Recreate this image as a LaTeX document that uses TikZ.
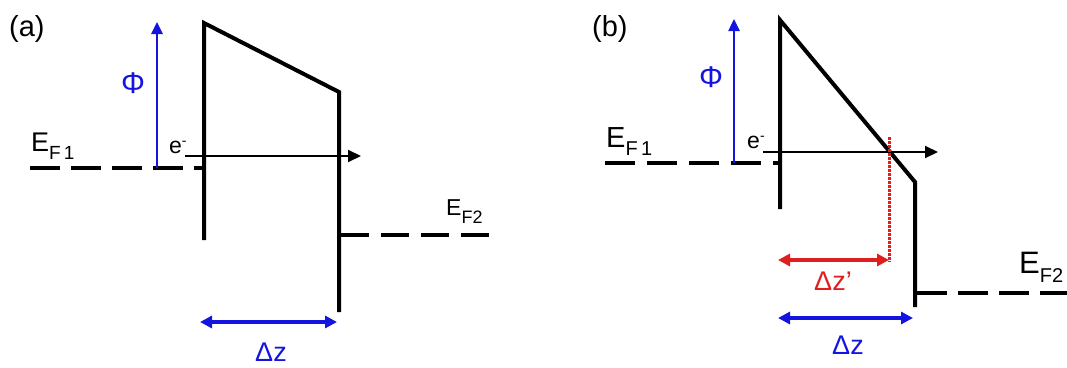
\documentclass[tikz,border=0pt]{standalone}
\usepackage{fontspec}
\setmainfont{Liberation Sans}
\usetikzlibrary{arrows.meta}
\definecolor{myblue}{RGB}{20,20,225}
\definecolor{myred}{RGB}{225,30,30}
\newcommand{\fs}[1]{\fontsize{#1}{#1}\selectfont}
\begin{document}
\begin{tikzpicture}[x=1pt,y=-1pt,
  barrier/.style={line width=4pt,line cap=rect,line join=miter},
  fermi/.style={line width=4.5pt,dash pattern=on 30pt off 11pt},
  elec/.style={line width=2pt,-{Triangle[length=13pt,width=12pt]}},
  phiarrow/.style={myblue,line width=2.5pt,-{Triangle[length=12pt,width=11pt]}},
  dzarrow/.style={line width=3.5pt,{Triangle[length=12pt,width=12pt]}-{Triangle[length=12pt,width=12pt]}},
  lab/.style={inner sep=0pt,anchor=base west}]
\useasboundingbox (0,0) rectangle (1067,367);

% ---------------- panel (a) ----------------
\node[lab,font=\fs{29}] (pa) at (9,36) {(a)};
\coordinate (a1) at (204,23);
\coordinate (a2) at (204,238);
\coordinate (a3) at (339,92);
\coordinate (a4) at (339,310);
\draw[barrier] (a2) -- (a1) -- (a3) -- (a4);
\coordinate (af1s) at (30,168);
\coordinate (af1e) at (204,168);
\draw[fermi] (af1s) -- (af1e);
\coordinate (af2s) at (341,235);
\coordinate (af2e) at (494,235);
\draw[fermi,dash pattern=on 28pt off 12pt] (af2s) -- (af2e);
\coordinate (aphi0) at (157,168);
\coordinate (aphi1) at (157,22);
\draw[phiarrow] (aphi0) -- (aphi1);
\node[inner sep=0pt,font=\fs{30},text=myblue] (aphi) at (133,83) {Φ};
\coordinate (ae0) at (185,156);
\coordinate (ae1) at (361,156);
\draw[elec] (ae0) -- (ae1);
\node[lab,font=\fs{23}] (ael) at (169,153) {e\raisebox{8pt}{\fs{14}-}};
\node[lab,font=\fs{27}] (aef1) at (31,151) {E\raisebox{-8pt}{\fs{19}F\,1}};
\node[lab,font=\fs{23}] (aef2) at (446,215) {E\raisebox{-8pt}{\fs{18}F2}};
\coordinate (adz0) at (200,322);
\coordinate (adz1) at (337,322);
\draw[dzarrow,myblue] (adz0) -- (adz1);
\node[inner sep=0pt,font=\fs{27},text=myblue] (adz) at (271,352) {Δz};

% ---------------- panel (b) ----------------
\node[lab,font=\fs{29}] (pb) at (592,36) {(b)};
\coordinate (b1) at (780,20);
\coordinate (b2) at (780,207);
\coordinate (b3) at (915,182);
\coordinate (b4) at (915,305);
\draw[barrier] (b2) -- (b1) -- (b3) -- (b4);
\coordinate (bf1s) at (605,163);
\coordinate (bf1e) at (780,163);
\draw[fermi,dash pattern=on 30pt off 12pt] (bf1s) -- (bf1e);
\coordinate (bf2s) at (917,293);
\coordinate (bf2e) at (1070,293);
\draw[fermi,dash pattern=on 30pt off 11pt] (bf2s) -- (bf2e);
\coordinate (bphi0) at (734,163);
\coordinate (bphi1) at (734,19);
\draw[phiarrow] (bphi0) -- (bphi1);
\node[inner sep=0pt,font=\fs{30},text=myblue] (bphi) at (711,77) {Φ};
\coordinate (be0) at (763,152);
\coordinate (be1) at (938,152);
\draw[elec] (be0) -- (be1);
\node[lab,font=\fs{23}] (bel) at (747,148) {e\raisebox{8pt}{\fs{14}-}};
\node[lab,font=\fs{29}] (bef1) at (606,147) {E\raisebox{-8pt}{\fs{20}F\,1}};
\node[lab,font=\fs{31}] (bef2) at (1019,273) {E\raisebox{-9pt}{\fs{20}F2}};
\coordinate (bd0) at (889,137);
\coordinate (bd1) at (889,262);
\draw[myred,line width=3pt,dash pattern=on 2.5pt off 1.5pt] (bd0) -- (bd1);
\coordinate (bdzp0) at (778,260);
\coordinate (bdzp1) at (889,260);
\draw[dzarrow,myred] (bdzp0) -- (bdzp1);
\node[inner sep=0pt,font=\fs{27},text=myred] (bdzp) at (833,281) {Δz’};
\coordinate (bdz0) at (778,318);
\coordinate (bdz1) at (913,318);
\draw[dzarrow,myblue] (bdz0) -- (bdz1);
\node[inner sep=0pt,font=\fs{27},text=myblue] (bdz) at (848,345) {Δz};
\end{tikzpicture}
\end{document}
